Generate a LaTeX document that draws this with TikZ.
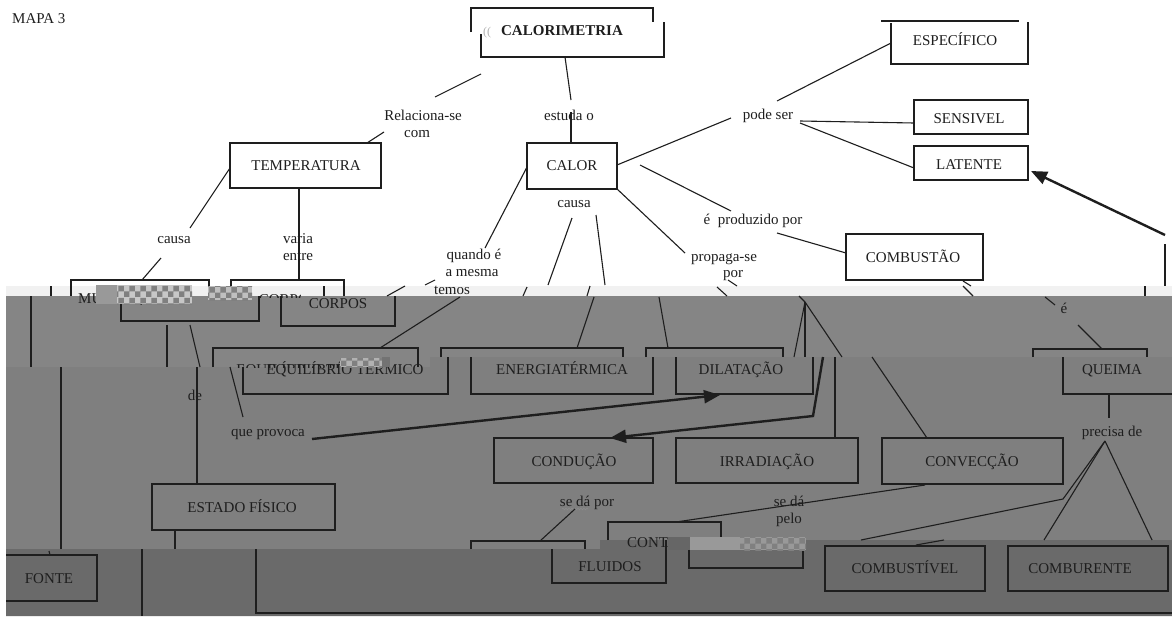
\documentclass[tikz,border=0pt]{standalone}
\usepackage{fontspec}
\setmainfont{Liberation Serif}
\usetikzlibrary{arrows.meta,decorations.pathmorphing,patterns}
\definecolor{lite}{HTML}{F1F1F1}
\definecolor{gB}{HTML}{858585}
\definecolor{gC}{HTML}{7F7F7F}
\definecolor{gD}{HTML}{6A6A6A}
\definecolor{ink}{HTML}{1E1E1E}
\begin{document}
\begin{tikzpicture}[x=1pt,y=-1pt,
  ln/.style={draw=ink,line width=1.1pt},
  bx/.style={draw=ink,line width=1.3pt},
  thk/.style={draw=ink,line width=2.4pt,-{Triangle[length=16pt,width=13pt]}},
  txt/.style={inner sep=0pt,text height=10.5pt,text depth=0pt,font=\fontsize{15}{17}\selectfont,text=ink},
  bold/.style={txt,font=\fontsize{15}{17}\selectfont\bfseries},
  noisy/.style={pattern=checkerboard,pattern color=black!50}]
\useasboundingbox (0,0) rectangle (1172,616);
% ---------------- background bands
\fill[white] (0,0) rectangle (1172,616);
\fill[lite] (6,286) rectangle (1172,296);
\fill[gB] (6,296) -- (1172,296) -- (1172,357) -- (430,357) -- (430,367) -- (6,367) -- cycle;
\fill[gC] (6,367) -- (430,367) -- (430,357) -- (1172,357) -- (1172,540) -- (600,540) -- (600,549) -- (6,549) -- cycle;
\fill[gD] (6,549) -- (600,549) -- (600,540) -- (1172,540) -- (1172,616) -- (6,616) -- cycle;

% ---------------- white region
\node[txt,anchor=west] (mapa) at (12,18) {MAPA 3};
\node[bold] (calorim) at (562,30) {CALORIMETRIA};
\node[txt,text=black!30,font=\fontsize{12}{14}\selectfont] (glitchA) at (487,30) {((};
\draw[bx] (471,32) -- (471,8) -- (653,8) -- (653,22);
\draw[bx] (481,34) -- (481,57) -- (664,57) -- (664,22);

\node[txt] (espec) at (955,40) {ESPECÍFICO};
\draw[bx] (881,21) -- (1019,21);
\draw[bx] (891,23) -- (891,64) -- (1028,64) -- (1028,22);
\node[txt] (sens) at (969,118) {SENSIVEL};
\draw[bx] (914,100) rectangle (1028,134);
\node[txt] (lat) at (969,164) {LATENTE};
\draw[bx] (914,146) rectangle (1028,180);
\node[txt] (pode) at (768,114) {pode ser};

\node[txt] (calor) at (572,165) {CALOR};
\draw[bx] (527,143) rectangle (617,189);
\node[txt] (temp) at (306,165) {TEMPERATURA};
\draw[bx] (230,143) rectangle (381,188);
\node[txt] (estuda) at (569,115) {estuda o};
\node[txt] (rel1) at (423,115) {Relaciona-se};
\node[txt] (rel2) at (417,132) {com};
\node[txt] (prod) at (753,219) {é\ \ produzido por};
\node[txt] (comb) at (913,257) {COMBUSTÃO};
\draw[bx] (846,234) rectangle (983,280);
\node[txt] (prop1) at (724,256) {propaga-se};
\node[txt] (prop2) at (733,272) {por};
\node[txt] (causaR) at (574,202) {causa};
\node[txt] (causaL) at (174,238) {causa};
\node[txt] (varia1) at (298,238) {varia};
\node[txt] (varia2) at (298,255) {entre};
\node[txt] (quando1) at (474,254) {quando é};
\node[txt] (quando2) at (472,271) {a mesma};
\node[txt] (quando3) at (452,289) {temos};

% connectors in the white region
\draw[ln] (481,74) -- (435,97);
\draw[ln] (384,132) -- (367,143);
\draw[ln] (565,57) -- (571,100);
\draw[ln] (571,112) -- (571,143);
\draw[ln] (617,165) -- (731,118);
\draw[ln] (777,101) -- (891,43);
\draw[ln] (800,121) -- (914,123);
\draw[ln] (800,123) -- (914,168);
\draw[ln] (640,165) -- (731,211);
\draw[ln] (777,233) -- (846,253);
\draw[ln] (616,188) -- (685,253);
\draw[ln] (728,280) -- (737,286);
\draw[ln] (230,168) -- (190,228);
\draw[ln] (161,258) -- (142,280);
\draw[ln] (299,188) -- (299,280);
\draw[ln] (527,167) -- (485,248);
\draw[ln] (572,218) -- (548,285);
\draw[ln] (596,215) -- (605,285);
\draw[ln] (435,280) -- (425,285);
\draw[ln] (963,281) -- (971,286);
\draw[thk] (1165,235) -- (1031,171);
\draw[ln] (1165,244) -- (1165,286);
% ghost boxes at the foot of the white region
\draw[bx] (71,296) -- (71,280) -- (209,280) -- (209,296);
\draw[bx] (231,296) -- (231,280) -- (344,280) -- (344,296);

% ---------------- light strip
\draw[ln] (51,286) -- (51,296);
\draw[ln] (324,286) -- (324,296);
\draw[ln] (405,286) -- (387,296);
\draw[ln] (527,287) -- (523,296);
\draw[ln] (590,286) -- (587,296);
\draw[ln] (717,287) -- (727,296);
\draw[ln] (963,286) -- (973,296);
\draw[ln] (1145,286) -- (1145,296);
\begin{scope}
  \clip (60,284) rectangle (260,304);
  \node[txt,anchor=west] (medghost) at (78,298) {MUDANÇA};
\end{scope}
\begin{scope}
  \clip (220,284) rectangle (300,297);
  \node[txt] (corpghost) at (288,299) {CORPOS};
\end{scope}
\fill[black!40] (96,285) rectangle (117,304);
\fill[black!22] (117,285) rectangle (192,304);
\fill[noisy] (117,285) rectangle (192,304);
\fill[black!25] (208,286) rectangle (252,300);
\fill[noisy] (208,286) rectangle (252,300);

% ---------------- band B
\draw[ln] (31,296) -- (31,367);
\draw[bx] (121,304) -- (121,321) -- (259,321) -- (259,296);
\draw[ln] (167,325) -- (167,367);
\draw[ln] (190,325) -- (200,367);
\begin{scope}
  \clip (270,296) rectangle (400,330);
  \node[txt] (corpos) at (338,303) {CORPOS};
\end{scope}
\draw[bx] (281,296) -- (281,326) -- (395,326) -- (395,296);
\draw[ln] (460,297) -- (380,348);
\draw[bx] (213,367) -- (213,348) -- (418,348) -- (418,367);
\draw[ln] (594,297) -- (577,348);
\draw[bx] (441,357) -- (441,348) -- (623,348) -- (623,357);
\draw[ln] (659,297) -- (668,348);
\draw[bx] (646,357) -- (646,348) -- (783,348) -- (783,357);
\coordinate (fan) at (805,302);
\draw[ln] (799,296) -- (fan);
\draw[ln] (fan) -- (794,357);
\draw[ln] (fan) -- (805,357);
\draw[ln] (fan) -- (842,357);
\node[txt] (e) at (1064,308) {é};
\draw[ln] (1045,297) -- (1055,305);
\draw[ln] (1078,325) -- (1102,349);
\draw[bx] (1033,357) -- (1033,349) -- (1147,349) -- (1147,357);

% ---------------- band C
\draw[ln] (61,367) -- (61,549);
\draw[ln] (197,367) -- (197,484);
\node[txt] (de) at (195,395) {de};
\draw[ln] (230,367) -- (243,417);
\node[txt] (provoca) at (268,431) {que provoca};
\begin{scope}
  \clip (200,340) rectangle (340,367);
  \node[txt] (eqghost) at (315,369) {EQUILÍBRIO TÉRMICO};
\end{scope}
\node[txt] (eq) at (345,369) {EQUILÍBRIO TÉRMICO};
\fill[black!30] (340,358) rectangle (382,367);
\fill[noisy] (340,358) rectangle (382,367);
\fill[black!55] (382,357) rectangle (390,367);
\draw[bx] (243,367) -- (243,394) -- (448,394) -- (448,357);
\node[txt] (energ) at (562,369) {ENERGIATÉRMICA};
\draw[bx] (471,357) -- (471,394) -- (653,394) -- (653,357);
\node[txt] (dil) at (741,369) {DILATAÇÃO};
\draw[bx] (676,357) -- (676,394) -- (813,394) -- (813,357);
\coordinate (provE) at (312,439);
\coordinate (dilTip) at (720,395);
\draw[thk] (provE) -- (dilTip);
\coordinate (condTip) at (610,438);
\draw[thk] (823,357) -- (813,416) -- (condTip);
\draw[ln] (835,357) -- (835,438);
\draw[ln] (872,357) -- (927,438);
\node[txt] (cond) at (574,461) {CONDUÇÃO};
\draw[bx] (494,438) rectangle (653,483);
\node[txt] (irr) at (767,461) {IRRADIAÇÃO};
\draw[bx] (676,438) rectangle (858,483);
\node[txt] (conv) at (972,461) {CONVECÇÃO};
\draw[bx] (882,438) rectangle (1063,484);
\node[txt] (queima) at (1112,369) {QUEIMA};
\draw[bx] (1063,357) -- (1063,394) -- (1172,394);
\draw[ln] (1109,394) -- (1109,418);
\node[txt] (precisa) at (1112,431) {precisa de};
\coordinate (apex) at (1105,441);
\draw[ln] (apex) -- (1044,540);
\draw[ln] (apex) -- (1152,540);
\draw[ln] (apex) -- (1063,499) -- (861,540);
\node[txt] (sedapor) at (587,501) {se dá por};
\draw[decorate,decoration={snake,amplitude=0.8pt,segment length=3pt},draw=black!45,line width=0.6pt] (562,509) -- (588,509);
\draw[ln] (575,509) -- (540,541);
\draw[bx] (471,549) -- (471,541) -- (585,541) -- (585,549);
\node[txt] (seda1) at (789,501) {se dá};
\node[txt] (seda2) at (789,518) {pelo};
\draw[ln] (925,485) -- (676,522);
\draw[bx] (608,540) -- (608,522) -- (721,522) -- (721,540);
\node[txt] (estado) at (242,507) {ESTADO FÍSICO};
\draw[bx] (152,484) rectangle (335,530);
\draw[ln] (175,530) -- (175,549);

% ---------------- band D
\node[txt] (fonte) at (49,578) {FONTE};
\draw[bx] (6,555) -- (97,555) -- (97,601) -- (6,601);
\draw[ln] (49,551) -- (50,555);
\draw[ln] (142,549) -- (142,616);
\draw[bx] (256,549) -- (256,613) -- (1172,613);
\node[txt] (fluidos) at (610,566) {FLUIDOS};
\draw[bx] (552,549) -- (552,583) -- (666,583) -- (666,540);
\node[txt,anchor=west] (contato) at (627,542) {CONTATO};
\draw[bx] (689,540) -- (689,568) -- (803,568) -- (803,550);
\fill[black!60] (668,537) rectangle (690,550);
\fill[black!40] (690,537) rectangle (806,550);
\fill[noisy] (740,537) rectangle (806,550);
\draw[ln] (944,540) -- (916,545);
\node[txt] (combst) at (905,568) {COMBUSTÍVEL};
\draw[bx] (825,546) rectangle (985,591);
\node[txt] (combur) at (1080,568) {COMBURENTE};
\draw[bx] (1008,546) rectangle (1168,591);
\end{tikzpicture}
\end{document}
